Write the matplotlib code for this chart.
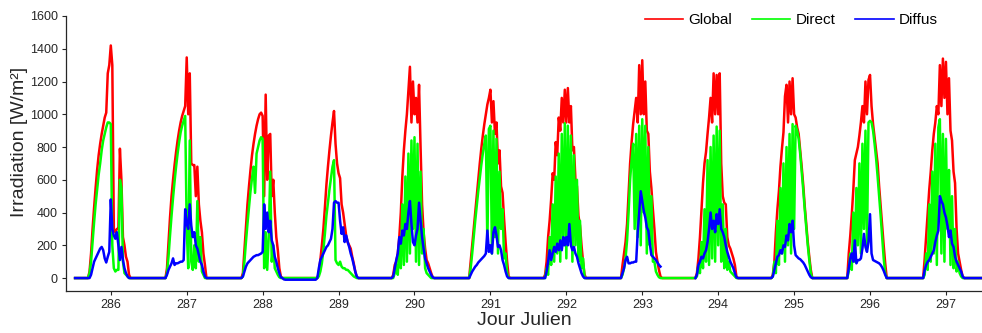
import numpy as np
import matplotlib
matplotlib.use("Agg")
import matplotlib.pyplot as plt

plt.rcParams['font.family'] = ['Liberation Sans', 'DejaVu Sans']

# Julian days and sample offsets (day fraction from noon) of the readings
days = [286, 287, 288, 289, 290, 291, 292, 293, 294, 295, 296, 297]
offsets = np.round(np.arange(-0.30, 0.301, 0.02), 2)
t_start, t_end = 285.53, 297.6

# Global irradiance [W/m2], one row per day
global_rad = [
    [0, 40, 150, 300, 430, 550, 660, 750, 820, 880,
     930, 980, 1010, 1250, 1300, 1420, 1300, 300, 280, 300,
     300, 790, 600, 250, 200, 130, 100, 20, 0, 0, 0],
    [0, 0, 60, 220, 370, 500, 600, 690, 770, 840,
     900, 950, 990, 1020, 1050, 1347, 1000, 1250, 700, 690,
     690, 500, 680, 450, 350, 280, 150, 80, 0, 0, 0],
    [0, 0, 30, 170, 320, 450, 560, 660, 750, 820,
     880, 930, 970, 1000, 1010, 990, 500, 1120, 600, 870,
     880, 500, 600, 400, 250, 170, 60, 10, 0, 0, 0],
    [0, 0, 30, 110, 200, 300, 430, 570, 680, 780,
     870, 950, 1020, 820, 700, 640, 610, 450, 400, 330,
     260, 220, 200, 180, 130, 90, 40, 5, 0, 0, 0],
    [0, 20, 80, 100, 150, 250, 400, 620, 780, 900,
     1000, 1150, 1290, 950, 1200, 1000, 1100, 950, 1180, 800,
     450, 280, 180, 110, 90, 60, 30, 5, 0, 0, 0],
    [0, 0, 100, 200, 300, 400, 500, 600, 700, 790,
     870, 940, 1000, 1060, 1100, 1150, 950, 1080, 880, 950,
     700, 780, 560, 520, 360, 220, 100, 10, 0, 0, 0],
    [0, 20, 100, 250, 350, 480, 640, 600, 830, 750,
     980, 900, 1100, 950, 1150, 950, 1160, 950, 1050, 780,
     800, 600, 560, 380, 320, 200, 100, 20, 0, 0, 0],
    [0, 0, 80, 150, 220, 330, 520, 700, 830, 940,
     1020, 1100, 950, 1300, 1000, 1330, 1000, 1200, 900, 880,
     650, 550, 420, 300, 160, 100, 50, 10, 0, 0, 0],
    [0, 30, 120, 250, 420, 580, 700, 770, 880, 980,
     1100, 950, 1250, 1000, 1240, 1000, 1250, 700, 500, 460,
     450, 250, 200, 180, 150, 120, 80, 10, 0, 0, 0],
    [0, 20, 100, 280, 420, 530, 680, 790, 890, 1110,
     1180, 950, 1200, 1000, 1220, 1000, 980, 920, 880, 780,
     680, 570, 440, 330, 220, 130, 50, 0, 0, 0, 0],
    [0, 150, 260, 390, 540, 720, 760, 800, 870, 950,
     1050, 950, 1200, 1000, 1210, 1240, 1050, 940, 860, 780,
     700, 560, 440, 320, 200, 90, 0, 0, 0, 0, 0],
    [0, 120, 260, 400, 540, 650, 780, 880, 950, 1050,
     1000, 1300, 1050, 1340, 1100, 1320, 1000, 1220, 900, 840,
     650, 580, 300, 150, 100, 50, 10, 0, 0, 0, 0],
]

# Direct irradiance [W/m2]
direct_rad = [
    [0, 30, 100, 220, 340, 450, 540, 630, 700, 780,
     840, 880, 920, 950, 950, 940, 200, 60, 40, 50,
     50, 600, 550, 100, 30, 20, 10, 0, 0, 0, 0],
    [0, 0, 30, 130, 260, 380, 490, 590, 680, 760,
     830, 890, 930, 960, 990, 300, 60, 840, 100, 50,
     200, 60, 470, 100, 250, 40, 20, 0, 0, 0, 0],
    [0, 0, 10, 100, 220, 330, 430, 530, 610, 680,
     520, 760, 800, 840, 860, 850, 60, 280, 50, 250,
     650, 100, 200, 60, 40, 20, 5, 0, 0, 0, 0],
    [0, 0, 10, 40, 90, 170, 270, 380, 460, 540,
     610, 680, 720, 110, 90, 80, 100, 70, 60, 60,
     50, 50, 40, 30, 20, 10, 5, 0, 0, 0, 0],
    [0, 0, 30, 80, 20, 200, 60, 450, 80, 620,
     100, 760, 150, 840, 300, 860, 100, 820, 80, 650,
     150, 300, 60, 30, 20, 10, 0, 0, 0, 0, 0],
    [0, 0, 60, 150, 250, 350, 440, 530, 610, 690,
     760, 820, 870, 200, 910, 930, 150, 900, 250, 850,
     150, 650, 300, 420, 120, 150, 30, 0, 0, 0, 0],
    [0, 0, 60, 20, 250, 80, 450, 100, 620, 150,
     760, 100, 880, 200, 945, 120, 930, 250, 870, 100,
     750, 200, 600, 100, 350, 60, 120, 0, 0, 0, 0],
    [0, 0, 20, 60, 120, 230, 400, 600, 720, 820,
     300, 880, 250, 930, 200, 970, 400, 930, 150, 800,
     200, 500, 100, 100, 40, 20, 5, 0, 0, 0, 0],
    [0, 10, 80, 30, 220, 60, 420, 100, 720, 80,
     800, 120, 870, 100, 925, 200, 900, 100, 450, 60,
     300, 50, 100, 40, 30, 20, 10, 0, 0, 0, 0],
    [0, 10, 100, 30, 350, 80, 550, 150, 700, 100,
     800, 200, 880, 150, 940, 300, 930, 900, 850, 760,
     650, 540, 420, 310, 200, 110, 30, 0, 0, 0, 0],
    [0, 40, 150, 50, 400, 100, 550, 200, 700, 150,
     820, 300, 900, 200, 950, 960, 950, 900, 820, 730,
     620, 500, 380, 250, 120, 30, 0, 0, 0, 0, 0],
    [0, 20, 150, 50, 450, 100, 650, 150, 820, 80,
     920, 970, 150, 880, 100, 850, 300, 660, 80, 500,
     60, 300, 40, 100, 30, 10, 0, 0, 0, 0, 0],
]

# Diffuse irradiance [W/m2] (nan = missing record)
nan = np.nan
diffus_rad = [
    [0, 0, 20, 60, 100, 120, 140, 160, 180, 190,
     170, 120, 95, 130, 160, 480, 300, 260, 240, 280,
     200, 110, 190, 110, 60, 30, 10, 0, 0, 0, 0],
    [0, 0, 20, 50, 70, 90, 120, 80, 90, 90,
     95, 100, 100, 110, 420, 330, 300, 450, 320, 250,
     280, 200, 180, 140, 100, 80, 40, 10, 0, 0, 0],
    [0, 0, 10, 40, 70, 90, 100, 110, 120, 130,
     135, 140, 140, 145, 150, 160, 450, 300, 400, 280,
     350, 230, 200, 130, 100, 60, 30, 5, 0, -8, -10],
    [-10, 0, 60, 110, 130, 150, 170, 190, 200, 220,
     240, 300, 460, 470, 460, 460, 350, 270, 310, 220,
     260, 220, 190, 150, 120, 80, 40, 10, 0, 0, 0],
    [0, 10, 60, 110, 150, 250, 210, 290, 260, 330,
     300, 400, 470, 330, 220, 200, 260, 300, 460, 350,
     250, 180, 120, 90, 60, 40, 20, 5, 0, 0, 0],
    [0, 0, 20, 40, 55, 70, 80, 95, 105, 115,
     125, 135, 150, 290, 160, 200, 150, 280, 310, 260,
     190, 200, 170, 110, 80, 40, 10, 0, 0, 0, 0],
    [0, 0, 40, 100, 170, 110, 150, 190, 160, 210,
     170, 230, 170, 250, 200, 250, 200, 330, 200, 170,
     190, 150, 130, 90, 60, 30, 10, 0, 0, 0, 0],
    [0, 0, 30, 60, 110, 130, 90, 90, 95, 95,
     100, 100, 280, 400, 530, 470, 410, 370, 310, 290,
     210, 140, 130, 120, 110, 95, 80, 70, nan, nan, nan],
    [0, 20, 80, 100, 130, 120, 150, 170, 220, 300,
     400, 300, 350, 280, 390, 330, 420, 300, 280, 250,
     200, 160, 130, 100, 80, 60, 30, 5, 0, 0, 0],
    [0, 10, 50, 90, 130, 140, 170, 150, 200, 190,
     260, 230, 330, 280, 350, 200, 140, 130, 120, 115,
     105, 95, 80, 60, 40, 20, 5, 0, 0, 0, 0],
    [0, 60, 120, 150, 100, 230, 90, 110, 110, 120,
     180, 270, 190, 160, 220, 390, 150, 110, 105, 100,
     95, 90, 80, 65, 45, 20, 0, 0, 0, 0, 0],
    [0, 50, 80, 100, 110, 130, 150, 170, 220, 260,
     290, 500, 470, 450, 400, 370, 320, 250, 290, 210,
     190, 130, 100, 80, 60, 40, 10, 0, 0, 0, 0],
]

t = np.concatenate([[t_start]] + [d + offsets for d in days] + [[t_end]])


def series(rows):
    return np.concatenate([[0.0]] + [np.asarray(r, dtype=float) for r in rows] + [[0.0]])


fig = plt.figure(figsize=(9.82, 3.33), dpi=100)
ax = fig.add_axes([66 / 982, 42 / 333, 925.5 / 982, 275 / 333])

ax.plot(t, series(global_rad), color='#ff0000', lw=1.8, label='Global')
ax.plot(t, series(direct_rad), color='#00ff00', lw=1.8, label='Direct')
ax.plot(t, series(diffus_rad), color='#0000ff', lw=1.8, label='Diffus')

ax.set_xlim(285.41, 297.6)
ax.set_ylim(-79, 1600)
ax.set_xticks(days)
ax.set_yticks(range(0, 1601, 200))
ax.tick_params(direction='out', length=3, width=0.8, pad=3, labelsize=9,
               colors='#262626')
for s in ['top', 'right']:
    ax.spines[s].set_visible(False)
for s in ['left', 'bottom']:
    ax.spines[s].set_color('#262626')
    ax.spines[s].set_linewidth(0.9)

ax.set_xlabel('Jour Julien', fontsize=14, color='#262626')
ax.set_ylabel('Irradiation [W/m²]', fontsize=14, color='#262626')
ax.yaxis.set_label_coords(-0.0502, 0.542)
ax.yaxis.label.set_va('center')
ax.xaxis.set_label_coords(0.495, -0.109)
ax.xaxis.label.set_va('center')

leg = fig.legend(loc='center left', bbox_to_anchor=(645 / 982, 1 - 20 / 333),
                 ncol=3, frameon=False, fontsize=11, handlelength=2.5,
                 handletextpad=0.35, columnspacing=1.3, borderpad=0, borderaxespad=0)
for h in leg.get_lines():
    h.set_linewidth(1.2)

fig.savefig('out.png', dpi=100)
